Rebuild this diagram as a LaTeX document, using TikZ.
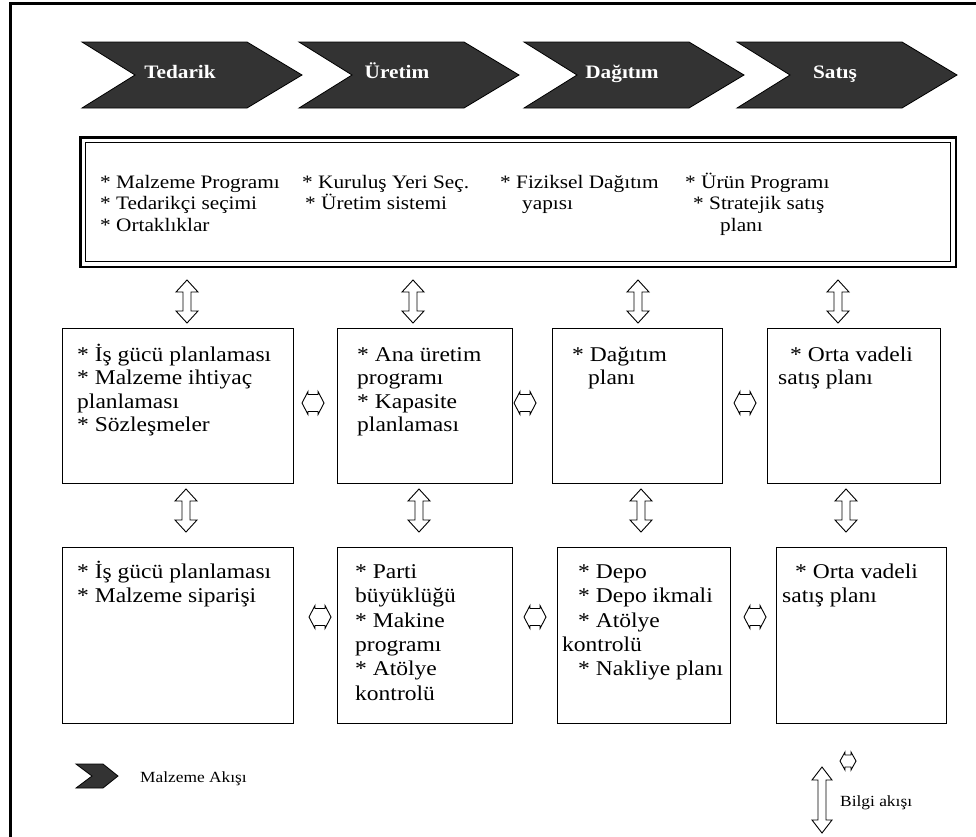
\documentclass[tikz,border=0pt]{standalone}
\usepackage{fontspec}
\setmainfont{Liberation Serif}[FakeStretch=1.12]
\definecolor{chevfill}{RGB}{51,51,51}
\newcommand\firstline{\rule{0pt}{20pt}}
\tikzset{
  x=1pt, y=-1pt,
  chevron/.pic={
    \fill[chevfill, draw=black, line width=0.8]
      (0,0) -- (165,0) -- (220,33) -- (165,66) -- (0,66) -- (53,33) -- cycle;
    \node[anchor=base, inner sep=0, text=white,
          font=\fontsize{19}{22}\selectfont\bfseries] (-lbl) at (98,36) {#1};
  },
  varr/.pic={
    \draw[fill=white, line width=0.9]
      (0,-21.5) -- (11,-9.5) -- (4,-9.5) -- (4,9.5) -- (11,9.5) -- (0,21.5)
      -- (-11,9.5) -- (-4,9.5) -- (-4,-9.5) -- (-11,-9.5) -- cycle;
  },
  harr/.pic={
    \draw[fill=white, line width=0.9]
      (-11,0) -- (-5,-11.5) -- (-5,-8.5) -- (5,-8.5) -- (5,-11.5) -- (11,0)
      -- (5,11.5) -- (5,8.5) -- (-5,8.5) -- (-5,11.5) -- cycle;
  },
  planbox/.style={draw, line width=1.3, inner sep=0, anchor=north west},
  bigtext/.style={anchor=north west, inner sep=0, align=left,
    font=\fontsize{19}{21.5}\selectfont},
  boxtext/.style={anchor=north west, inner sep=0, align=left,
    font=\fontsize{21}{23.5}\selectfont},
  lowtext/.style={anchor=north west, inner sep=0, align=left,
    font=\fontsize{21}{24.4}\selectfont},
  legtext/.style={anchor=base west, inner sep=0,
    font=\fontsize{15.5}{18}\selectfont},
}
\begin{document}
\begin{tikzpicture}
\useasboundingbox (0,0) rectangle (976,836);
\clip (0,0) rectangle (976,836);

% outer frame
\draw[line width=3] (10,3) rectangle (1000,860);

% material flow chevrons
\pic (c1) at (82,42)  {chevron=Tedarik};
\pic (c2) at (299,42) {chevron=Üretim};
\pic (c3) at (524,42) {chevron=Dağıtım};
\pic (c4) at (737,42) {chevron=Satış};

% strategic level (double frame)
\node[draw, line width=1.3, inner sep=0, anchor=north west,
      minimum width=865, minimum height=119] (strat) at (85,142) {};
\draw[line width=2.4] ([shift={(-4.5,4.5)}]strat.south west)
  rectangle ([shift={(4.5,-4.5)}]strat.north east);
\node[bigtext] (s1) at (100,168) {\firstline* Malzeme Programı\\* Tedarikçi seçimi\\* Ortaklıklar};
\node[bigtext] (s2) at (302,168) {\firstline* Kuruluş Yeri Seç.\\\hspace*{3pt}* Üretim sistemi};
\node[bigtext] (s3) at (500,168) {\firstline* Fiziksel Dağıtım\\\hspace*{22pt}yapısı};
\node[bigtext] (s4) at (685,168) {\firstline* Ürün Programı\\\hspace*{8pt}* Stratejik satış\\\hspace*{35pt}planı};

% tactical level
\node[planbox, minimum width=231, minimum height=155] (t1) at (62,328) {};
\node[planbox, minimum width=175, minimum height=155] (t2) at (337,328) {};
\node[planbox, minimum width=170, minimum height=155] (t3) at (552,328) {};
\node[planbox, minimum width=173, minimum height=155] (t4) at (767,328) {};
\node[boxtext] (t1x) at (77,341) {\firstline* İş gücü planlaması\\* Malzeme ihtiyaç\\planlaması\\* Sözleşmeler};
\node[boxtext] (t2x) at (357,341) {\firstline* Ana üretim\\programı\\* Kapasite\\planlaması};
\node[boxtext] (t3x) at (572,341) {\firstline* Dağıtım\\\hspace*{16pt}planı};
\node[boxtext] (t4x) at (778,341) {\firstline\hspace*{12pt}* Orta vadeli\\satış planı};

% operational level
\node[planbox, minimum width=231, minimum height=176] (o1) at (62,547) {};
\node[planbox, minimum width=175, minimum height=176] (o2) at (337,547) {};
\node[planbox, minimum width=173, minimum height=176] (o3) at (557,547) {};
\node[planbox, minimum width=170, minimum height=176] (o4) at (776,547) {};
\node[lowtext] (o1x) at (77,558) {\firstline* İş gücü planlaması\\* Malzeme siparişi};
\node[lowtext] (o2x) at (355,558) {\firstline* Parti\\büyüklüğü\\* Makine\\programı\\* Atölye\\kontrolü};
\node[lowtext] (o3x) at (562,558) {\firstline\hspace*{16pt}* Depo\\\hspace*{16pt}* Depo ikmali\\\hspace*{16pt}* Atölye\\kontrolü\\\hspace*{16pt}* Nakliye planı};
\node[lowtext] (o4x) at (782,558) {\firstline\hspace*{13pt}* Orta vadeli\\satış planı};

% information flow, vertical
\pic at (187,301.5) {varr};
\pic at (413,301.5) {varr};
\pic at (638,301.5) {varr};
\pic at (838,301.5) {varr};
\pic at (186,510.5) {varr};
\pic at (419,510.5) {varr};
\pic at (641,510.5) {varr};
\pic at (846,510.5) {varr};

% information flow, horizontal
\pic at (313,403) {harr};
\pic at (525,403) {harr};
\pic at (745,403) {harr};
\pic at (320,617) {harr};
\pic at (535,617) {harr};
\pic at (755,617) {harr};

% legend
\fill[chevfill, draw=black, line width=0.8]
  (76,764) -- (103,764) -- (118,776) -- (103,788) -- (76,788) -- (92,776) -- cycle;
\node[legtext] (lm) at (140,782) {Malzeme Akışı};
\draw[fill=white, line width=0.9]
  (822,767) -- (832,780) -- (826,780) -- (826,820) -- (832,820) -- (822,833)
  -- (812,820) -- (818,820) -- (818,780) -- (812,780) -- cycle;
\draw[fill=white, line width=0.9]
  (840,761) -- (845,752) -- (845,755) -- (851,755) -- (851,752) -- (856,761)
  -- (851,770) -- (851,767) -- (845,767) -- (845,770) -- cycle;
\node[legtext] (lb) at (840,806) {Bilgi akışı};
\end{tikzpicture}
\end{document}
